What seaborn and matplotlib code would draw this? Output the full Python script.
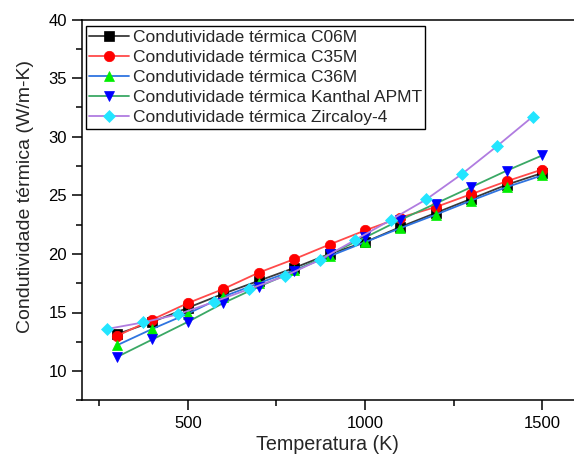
import matplotlib
matplotlib.use("Agg")
import matplotlib.pyplot as plt
from matplotlib.ticker import MultipleLocator
import seaborn as sns
import pandas as pd

# Temperatures (K)
temp_c = [300, 400, 500, 600, 700, 800, 900, 1000, 1100, 1200, 1300, 1400, 1500]
temp_zr = [273, 373, 473, 573, 673, 773, 873, 973, 1073, 1173, 1273, 1373, 1473]

# Thermal conductivity (W/m-K)
k_c06m = [13.15, 14.2, 15.4, 16.6, 17.7, 18.8, 20.0, 21.0, 22.3, 23.5, 24.7, 25.9, 26.9]
k_c35m = [13.0, 14.4, 15.8, 17.0, 18.4, 19.55, 20.8, 22.0, 23.1, 24.0, 25.1, 26.2, 27.2]
k_c36m = [12.2, 13.6, 14.9, 16.35, 17.5, 18.6, 19.8, 21.0, 22.2, 23.35, 24.55, 25.7, 26.7]
k_apmt = [11.2, 12.7, 14.2, 15.8, 17.2, 18.5, 20.0, 21.4, 22.9, 24.3, 25.7, 27.1, 28.4]
k_zry4 = [13.6, 14.15, 14.85, 15.9, 17.0, 18.1, 19.5, 21.2, 22.9, 24.65, 26.8, 29.2, 31.7]

labels = [
    "Condutividade térmica C06M",
    "Condutividade térmica C35M",
    "Condutividade térmica C36M",
    "Condutividade térmica Kanthal APMT",
    "Condutividade térmica Zircaloy-4",
]

sns.set_style("ticks")
plt.rcParams["font.family"] = ["Liberation Sans", "DejaVu Sans"]

series = [
    (temp_c, k_c06m, "#3a3a3a", "#000000", "s", 6.5),
    (temp_c, k_c35m, "#ff4a4a", "#ff0000", "o", 7.5),
    (temp_c, k_c36m, "#2f74e0", "#00ee00", "^", 7.5),
    (temp_c, k_apmt, "#3aa865", "#0000ff", "v", 7.5),
    (temp_zr, k_zry4, "#b07ce0", "#22e5ff", "D", 6.5),
]

fig = plt.figure(figsize=(5.74, 4.59), dpi=100)
ax = fig.add_axes([81.5 / 574, 58.6 / 459, 492.5 / 574, 380.9 / 459])

for (x, y, lc, mc, mk, ms), lab in zip(series, labels):
    df = pd.DataFrame({"T": x, "k": y})
    sns.lineplot(data=df, x="T", y="k", ax=ax, color=lc, lw=1.3,
                 marker=mk, markersize=ms, markerfacecolor=mc,
                 markeredgecolor=mc, markeredgewidth=0.5, label=lab)

ax.set_xlim(200, 1590)
ax.set_ylim(7.5, 40)
ax.xaxis.set_major_locator(MultipleLocator(500))
ax.xaxis.set_minor_locator(MultipleLocator(250))
ax.yaxis.set_major_locator(MultipleLocator(5))
ax.yaxis.set_minor_locator(MultipleLocator(2.5))
ax.tick_params(which="major", direction="out", length=7, width=1.1,
               labelsize=12, color="black", labelcolor="black")
ax.tick_params(axis="x", which="major", pad=4)
ax.tick_params(which="minor", direction="out", length=4, width=1.1, color="black")
ax.tick_params(axis="y", which="both", right=False)
ax.tick_params(axis="x", which="both", top=False)

for side in ["left", "bottom", "top"]:
    ax.spines[side].set_linewidth(1.1)
    ax.spines[side].set_color("black")
ax.spines["right"].set_visible(False)

ax.set_xlabel("Temperatura (K)", fontsize=14.2, labelpad=3)
ax.set_ylabel("Condutividade térmica (W/m-K)", fontsize=14.0)
ax.yaxis.set_label_coords(-0.097, 0.535)

leg = ax.legend(loc="upper left", bbox_to_anchor=(0.009, 0.982), fontsize=12.5,
                frameon=True, fancybox=False, edgecolor="black", framealpha=1,
                borderpad=0.2, labelspacing=0.28, handlelength=2.3,
                handletextpad=0.2, borderaxespad=0)
leg.get_frame().set_linewidth(1.0)

fig.savefig("out.png", dpi=100)
